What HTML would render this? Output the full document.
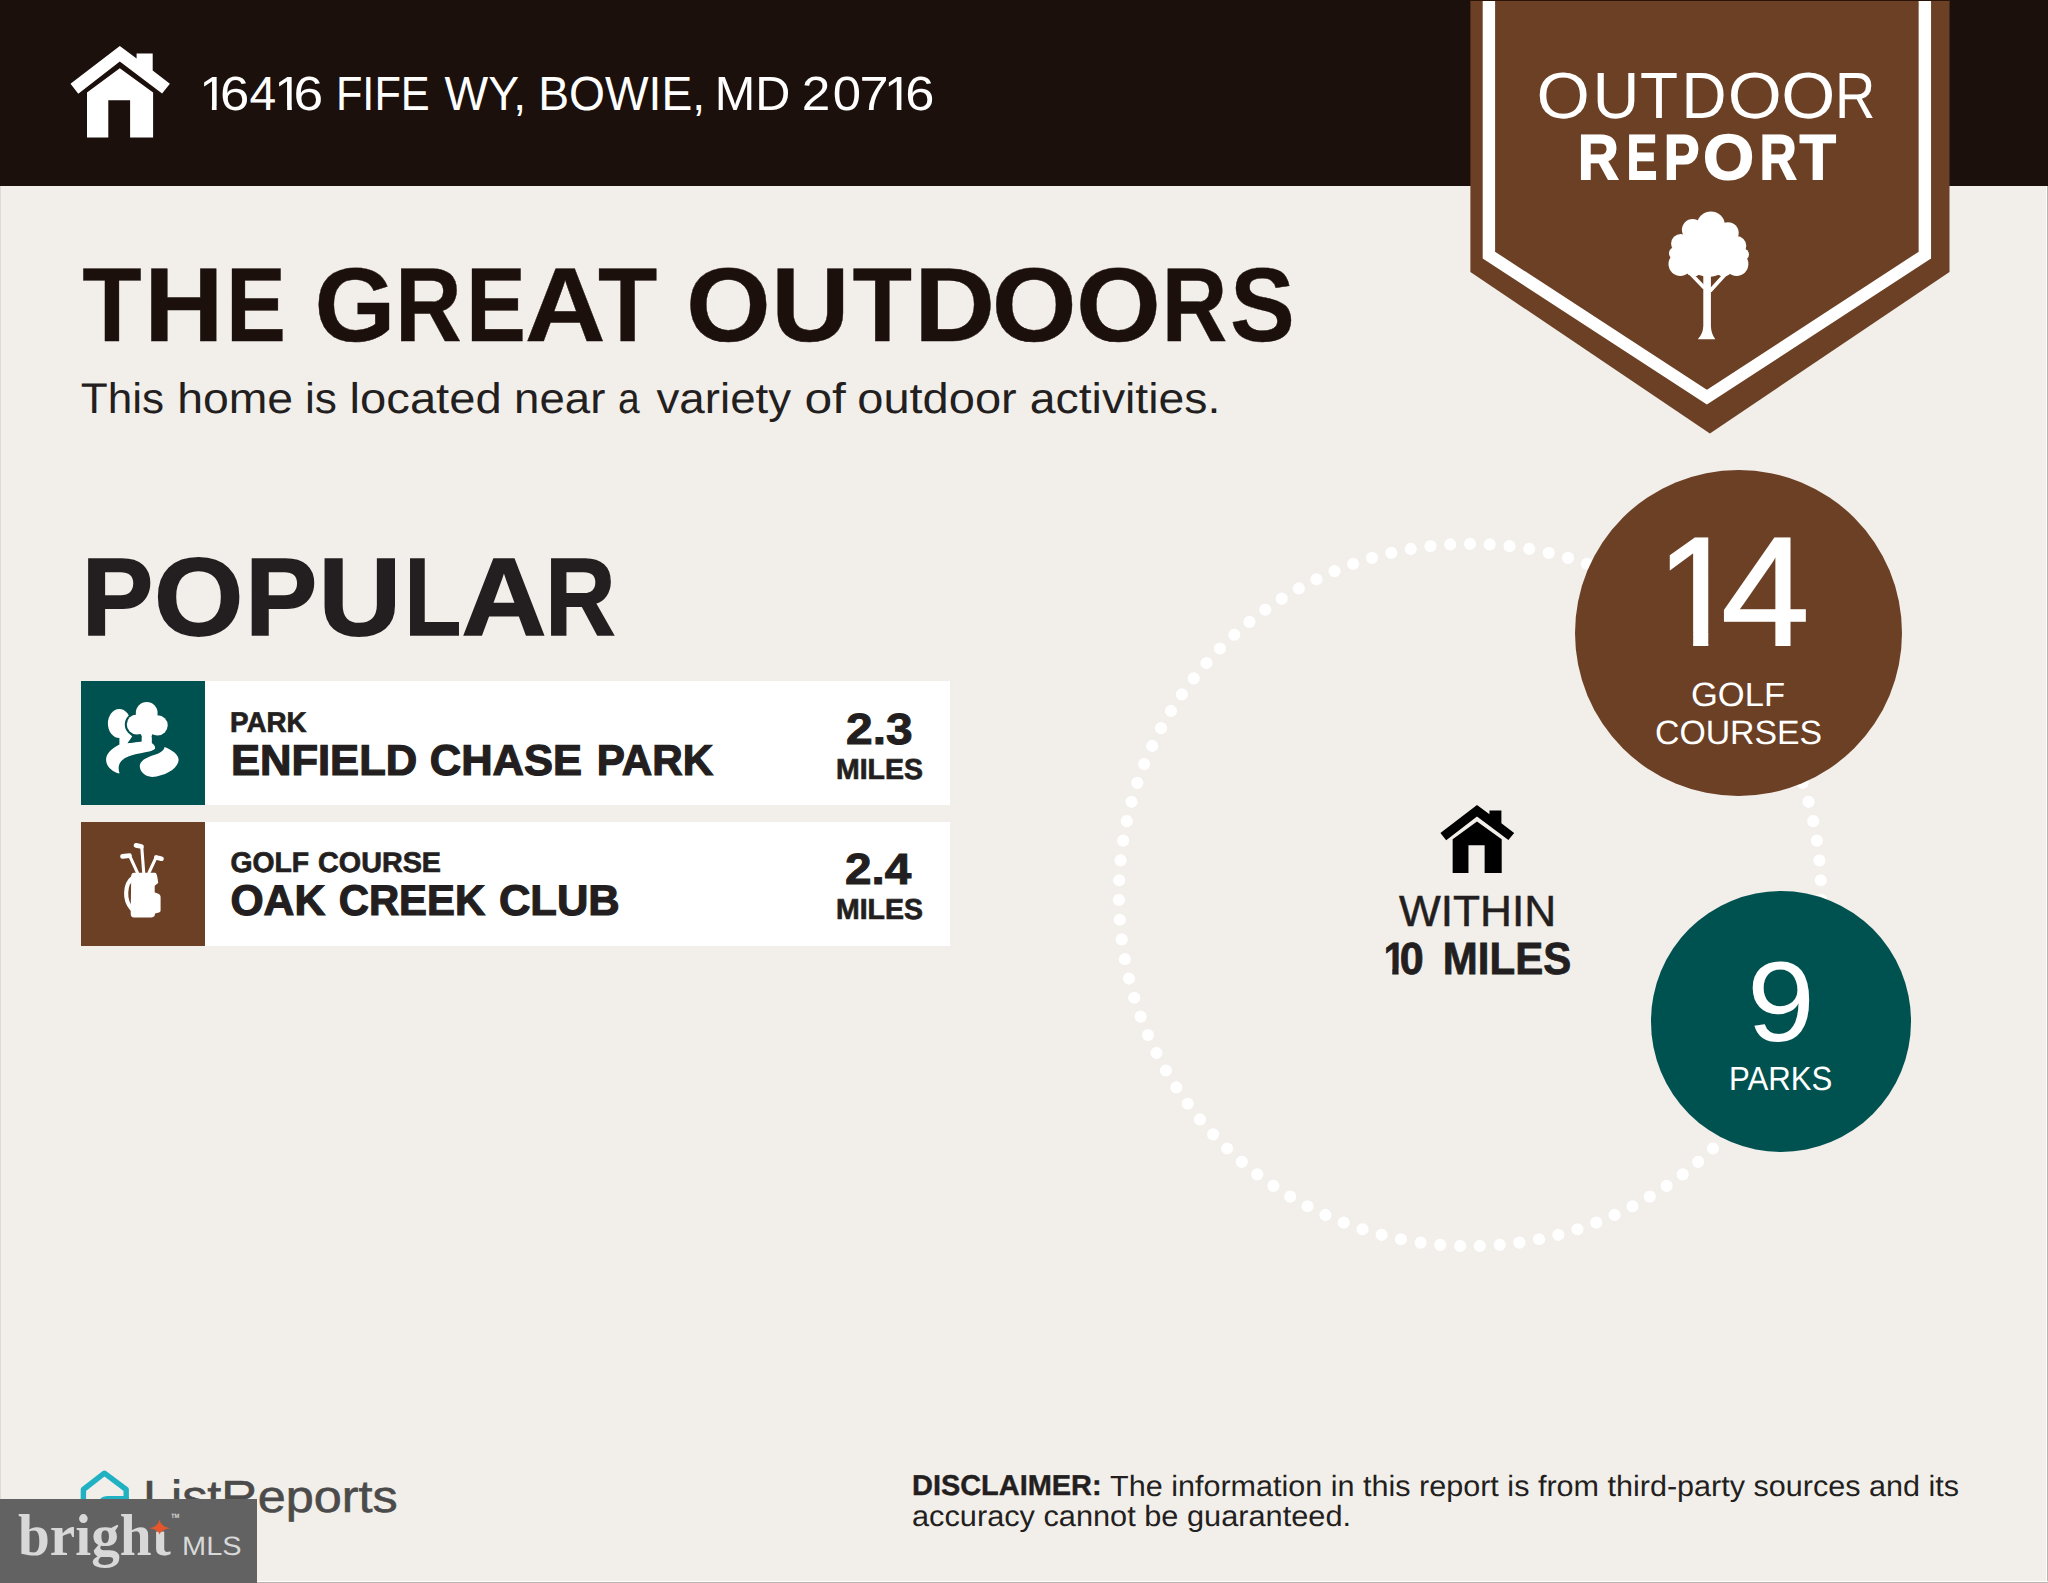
<!DOCTYPE html>
<html lang="en">
<head>
<meta charset="utf-8">
<title>Outdoor Report - 16416 Fife Wy, Bowie, MD 20716</title>
<style>
html,body{margin:0;padding:0;background:#f2eeea;}
body{width:2048px;height:1583px;overflow:hidden;font-family:"Liberation Sans",Arial,sans-serif;color:#231f20;text-rendering:geometricPrecision;}
#page{position:relative;width:2048px;height:1583px;overflow:hidden;background:#f2eeea;}
#hdr{position:absolute;left:0;top:0;width:2048px;height:185.7px;background:#1c100c;}
svg{position:absolute;left:0;top:0;overflow:visible;}
.card{position:absolute;left:80.5px;width:869.8px;background:#ffffff;}
.card .ico{position:absolute;left:0;top:0;width:124px;height:100%;}
#card1{top:681.4px;height:124px;}
#card2{top:821.8px;height:124.4px;}
#card1 .ico{background:#005250;}
#card2 .ico{background:#6c4025;}
.count{position:absolute;border-radius:50%;}
#golfc{left:1575px;top:469.7px;width:326.6px;height:326.6px;background:#6c4025;}
#parkc{left:1650.6px;top:891.2px;width:260.8px;height:260.8px;background:#005250;}
#wm{position:absolute;left:0;top:1499.2px;width:256.8px;height:83.8px;background:#626262;}
.g{position:absolute;left:0;margin:0;padding:0;white-space:nowrap;line-height:normal;font-weight:400;}
.w{display:inline-block;transform-origin:0 50%;}
#disclaimer{position:static;font-size:0;line-height:0;}
.t{position:absolute;white-space:nowrap;line-height:normal;transform-origin:0 0;margin:0;padding:0;display:block;}
#addr{top:67px;font-size:47.82px;color:#ffffff;}
#addr_0{transform:translateX(199.15px) scaleX(1.0669);clip-path:polygon(-20px -20px,47.82px -20px,47.82px 39.01px,16.36px 39.01px,16.36px 63px,11.97px 63px,11.97px 39.01px,-20px 39.01px);}
#addr_1{transform:translateX(193.03px) scaleX(1.1013);}
#addr_2{transform:translateX(196.61px) scaleX(1.0043);}
#addr_3{transform:translateX(194.37px) scaleX(1.0669);clip-path:polygon(-20px -20px,47.82px -20px,47.82px 39.01px,16.36px 39.01px,16.36px 63px,11.97px 63px,11.97px 39.01px,-20px 39.01px);}
#addr_4{transform:translateX(187.52px) scaleX(1.1149);}
#addr_5{transform:translateX(189.88px) scaleX(0.9065);}
#addr_6{transform:translateX(181.54px) scaleX(0.9680);}
#addr_7{transform:translateX(177.21px) scaleX(0.9667);}
#addr_8{transform:translateX(167.65px) scaleX(1.0168);}
#addr_9{transform:translateX(167.7px) scaleX(1.0741);}
#addr_10{transform:translateX(171.7px) scaleX(1.0630);}
#addr_11{transform:translateX(172.61px) scaleX(1.0948);}
#addr_12{transform:translateX(169.95px) scaleX(1.0669);clip-path:polygon(-20px -20px,47.82px -20px,47.82px 39.01px,16.36px 39.01px,16.36px 63px,11.97px 63px,11.97px 39.01px,-20px 39.01px);}
#addr_13{transform:translateX(164.34px) scaleX(1.0967);}
#title{top:246.1px;font-size:105.09px;font-weight:700;color:#1c100c;-webkit-text-stroke:0.4px #1c100c;}
#title_0{transform:translateX(82.31px) scaleX(0.9259);}
#title_1{transform:translateX(80.04px) scaleX(1.0489);}
#title_2{transform:translateX(86.01px) scaleX(0.8548);}
#title_3{transform:translateX(75.46px) scaleX(0.9899);}
#title_4{transform:translateX(74.12px) scaleX(0.8785);}
#title_5{transform:translateX(69.09px) scaleX(0.8548);}
#title_6{transform:translateX(57.81px) scaleX(1.0666);}
#title_7{transform:translateX(54.92px) scaleX(0.9243);}
#title_8{transform:translateX(49.96px) scaleX(1.0367);}
#title_9{transform:translateX(53.28px) scaleX(1.0322);}
#title_10{transform:translateX(58.51px) scaleX(0.9275);}
#title_11{transform:translateX(56px) scaleX(1.0691);}
#title_12{transform:translateX(57.75px) scaleX(1.0381);}
#title_13{transform:translateX(60.01px) scaleX(1.0381);}
#title_14{transform:translateX(63.78px) scaleX(0.8635);}
#title_15{transform:translateX(56.96px) scaleX(0.9244);}
#sub{top:374.9px;font-size:42.88px;}
#sub_0{transform:translateX(80.81px) scaleX(1.0281);}
#sub_1{transform:translateX(84.16px) scaleX(1.0812);}
#sub_2{transform:translateX(93.03px) scaleX(1.0321);}
#sub_3{transform:translateX(94.62px) scaleX(1.0994);}
#sub_4{transform:translateX(109.08px) scaleX(1.0637);}
#sub_5{transform:translateX(115.11px) scaleX(0.9080);}
#sub_6{transform:translateX(117.52px) scaleX(1.0661);}
#sub_7{transform:translateX(127.39px) scaleX(1.1610);}
#sub_8{transform:translateX(132.22px) scaleX(1.0971);}
#sub_9{transform:translateX(147.78px) scaleX(1.0809);}
#popular{top:534.4px;font-size:110.47px;font-weight:700;-webkit-text-stroke:1.6px #231f20;}
#popular_0{transform:translateX(81.64px) scaleX(0.9693);}
#popular_1{transform:translateX(80.1px) scaleX(1.0396);}
#popular_2{transform:translateX(85.36px) scaleX(0.9757);}
#popular_3{transform:translateX(85.41px) scaleX(1.0361);}
#popular_4{transform:translateX(91.5px) scaleX(0.8396);}
#popular_5{transform:translateX(80.39px) scaleX(1.0646);}
#popular_6{transform:translateX(85.34px) scaleX(0.8799);}
#c1lab{left:149.69px;top:25.45px;transform:scaleX(0.9746);font-size:28.49px;font-weight:700;-webkit-text-stroke:0.7px #231f20;}
#c1name{top:55.6px;font-size:43.02px;font-weight:700;-webkit-text-stroke:1.2px #231f20;}
#c1name_0{transform:translateX(149.89px) scaleX(1.0126);}
#c1name_1{transform:translateX(153.75px) scaleX(1.0106);}
#c1name_2{transform:translateX(157.78px) scaleX(0.9807);}
#c1dist{left:765.14px;top:23.4px;transform:scaleX(1.0967);font-size:43.68px;font-weight:700;-webkit-text-stroke:1px #231f20;}
#c1mi{left:755.05px;top:72.55px;transform:scaleX(0.9895);font-size:28.78px;font-weight:700;-webkit-text-stroke:0.7px #231f20;}
#c2lab{top:25.25px;font-size:28.34px;font-weight:700;-webkit-text-stroke:0.7px #231f20;}
#c2lab_0{transform:translateX(149.49px) scaleX(0.9986);}
#c2lab_1{transform:translateX(151.11px) scaleX(1.0136);}
#c2name{top:55.3px;font-size:42.88px;font-weight:700;-webkit-text-stroke:1.2px #231f20;}
#c2name_0{transform:translateX(149.45px) scaleX(0.9943);}
#c2name_1{transform:translateX(150.68px) scaleX(0.9760);}
#c2name_2{transform:translateX(148.9px) scaleX(1.0148);}
#c2dist{left:764.85px;top:23.3px;transform:scaleX(1.0920);font-size:43.68px;font-weight:700;-webkit-text-stroke:1px #231f20;}
#c2mi{left:755.05px;top:72.45px;transform:scaleX(0.9895);font-size:28.78px;font-weight:700;-webkit-text-stroke:0.7px #231f20;}
#b1{top:57.6px;font-size:65.26px;color:#ffffff;}
#b1_0{transform:translateX(1536.55px) scaleX(1.0506);}
#b1_1{transform:translateX(1541.66px) scaleX(0.9876);}
#b1_2{transform:translateX(1542.01px) scaleX(0.9539);}
#b1_3{transform:translateX(1543.44px) scaleX(0.9547);}
#b1_4{transform:translateX(1542.84px) scaleX(1.0640);}
#b1_5{transform:translateX(1545.27px) scaleX(1.0640);}
#b1_6{transform:translateX(1548.91px) scaleX(0.8568);}
#b2{top:121.7px;font-size:63.37px;font-weight:700;color:#ffffff;-webkit-text-stroke:1.8px #ffffff;}
#b2_0{transform:translateX(1577.93px) scaleX(0.8900);}
#b2_1{transform:translateX(1580.68px) scaleX(0.7201);}
#b2_2{transform:translateX(1576.02px) scaleX(0.8365);}
#b2_3{transform:translateX(1573.33px) scaleX(1.0288);}
#b2_4{transform:translateX(1579.69px) scaleX(0.8055);}
#b2_5{transform:translateX(1574.78px) scaleX(0.9326);}
#n14{top:33px;font-size:154.8px;color:#ffffff;-webkit-text-stroke:1.8px #ffffff;}
#n14_0{transform:translateX(81.23px) scaleX(0.9703);clip-path:polygon(-20px -20px,154.8px -20px,154.8px 129.09px,53.63px 129.09px,53.63px 162px,38.09px 162px,38.09px 129.09px,-20px 129.09px);}
#n14_1{transform:translateX(60.36px) scaleX(1.0256);}
#golf{left:115.66px;top:207.3px;transform:scaleX(1.0284);font-size:33.58px;color:#ffffff;}
#courses{left:79.78px;top:243.9px;transform:scaleX(1.0025);font-size:33.72px;color:#ffffff;}
#n9{left:96.28px;top:46px;transform:scaleX(1.0711);font-size:114px;color:#ffffff;}
#parks{left:78.44px;top:169.8px;transform:scaleX(0.9285);font-size:33.58px;color:#ffffff;}
#within{left:1399.16px;top:887.45px;transform:scaleX(1.0108);font-size:43.75px;-webkit-text-stroke:0.5px #231f20;}
#m10{top:933px;font-size:45.06px;font-weight:700;-webkit-text-stroke:0.8px #231f20;}
#m10_0{transform:translateX(1383.67px) scaleX(0.8657);clip-path:polygon(-20px -20px,45.06px -20px,45.06px 35.58px,17.17px 35.58px,17.17px 61px,9.98px 61px,9.98px 35.58px,-20px 35.58px);}
#m10_1{transform:translateX(1374.73px) scaleX(0.9566);}
#m10_2{transform:translateX(1379.85px) scaleX(0.9322);}
#disc{left:912.16px;top:1470.3px;transform:scaleX(1.0104);font-size:28.63px;font-weight:700;-webkit-text-stroke:0.4px #231f20;}
#disc1{left:1110.01px;top:1470.5px;transform:scaleX(1.0456);font-size:29.22px;}
#disc2{left:911.99px;top:1500.9px;transform:scaleX(1.0516);font-size:29.22px;}
#lr{left:143.17px;top:1470.7px;transform:scaleX(1.1178);font-size:45.06px;color:#4b4b4b;-webkit-text-stroke:0.6px #4b4b4b;}
#bright{left:18.27px;top:1.5px;transform:scaleX(0.9718);font-size:58.95px;font-weight:700;color:#d8d8d8;font-family:'Liberation Serif','Times New Roman',serif;}
#mls{left:181.72px;top:31.5px;transform:scaleX(1.0899);font-size:26.6px;color:#d8d8d8;}
#tm{left:171.34px;top:14px;transform:scaleX(0.9483);font-size:6.1px;font-weight:700;color:#d8d8d8;}
</style>
</head>
<body>
<div id="page">

  <header id="hdr">
    <svg width="2048" height="186" viewBox="0 0 2048 186">
      <g fill="#ffffff">
        <polygon points="70.5,83.8 119.8,46 136.6,58.6 136.6,53.4 152.7,53.4 152.7,70.6 169.9,83.8 162.1,93.4 119.8,61.6 78.3,93.7"/>
        <path d="M119.8,68.2 L153.1,92.4 L153.1,137.6 L130.1,137.6 L130.1,100.2 L108.3,100.2 L108.3,137.6 L87,137.6 L87,92.4 Z"/>
      </g>
    </svg>
    <div class="g" id="addr" aria-label="16416 FIFE WY, BOWIE, MD 20716"><span class="w" id="addr_0">1</span><span class="w" id="addr_1">6</span><span class="w" id="addr_2">4</span><span class="w" id="addr_3">1</span><span class="w" id="addr_4">6</span> <span class="w" id="addr_5">FIFE</span> <span class="w" id="addr_6">WY,</span> <span class="w" id="addr_7">BOWIE,</span> <span class="w" id="addr_8">MD</span> <span class="w" id="addr_9">2</span><span class="w" id="addr_10">0</span><span class="w" id="addr_11">7</span><span class="w" id="addr_12">1</span><span class="w" id="addr_13">6</span></div>
  </header>

  <section id="intro">
    <h1 class="g" id="title" aria-label="THE GREAT OUTDOORS"><span class="w" id="title_0">T</span><span class="w" id="title_1">H</span><span class="w" id="title_2">E</span> <span class="w" id="title_3">G</span><span class="w" id="title_4">R</span><span class="w" id="title_5">E</span><span class="w" id="title_6">A</span><span class="w" id="title_7">T</span> <span class="w" id="title_8">O</span><span class="w" id="title_9">U</span><span class="w" id="title_10">T</span><span class="w" id="title_11">D</span><span class="w" id="title_12">O</span><span class="w" id="title_13">O</span><span class="w" id="title_14">R</span><span class="w" id="title_15">S</span></h1>
    <p class="g" id="sub"><span class="w" id="sub_0">This</span> <span class="w" id="sub_1">home</span> <span class="w" id="sub_2">is</span> <span class="w" id="sub_3">located</span> <span class="w" id="sub_4">near</span> <span class="w" id="sub_5">a</span> <span class="w" id="sub_6">variety</span> <span class="w" id="sub_7">of</span> <span class="w" id="sub_8">outdoor</span> <span class="w" id="sub_9">activities.</span></p>
  </section>

  <section id="radius">
    <svg width="2048" height="1583" viewBox="0 0 2048 1583">
      <circle cx="1470" cy="895" r="351.1" fill="none" stroke="#ffffff" stroke-width="12.2" stroke-linecap="round" pathLength="111" stroke-dasharray="0 1" transform="rotate(-90 1470 895)"/>
      <g fill="#000000" transform="translate(1388.1 770.8) scale(0.742)">
        <polygon points="70.5,83.8 119.8,46 136.6,58.6 136.6,53.4 152.7,53.4 152.7,70.6 169.9,83.8 162.1,93.4 119.8,61.6 78.3,93.7"/>
        <path d="M119.8,68.2 L153.1,92.4 L153.1,137.6 L130.1,137.6 L130.1,100.2 L108.3,100.2 L108.3,137.6 L87,137.6 L87,92.4 Z"/>
      </g>
    </svg>
    <span class="t" id="within">WITHIN</span>
    <div class="g" id="m10" aria-label="10 MILES"><span class="w" id="m10_0">1</span><span class="w" id="m10_1">0</span> <span class="w" id="m10_2">MILES</span></div>
    <div class="count" id="golfc">
      <div class="g" id="n14" aria-label="14"><span class="w" id="n14_0">1</span><span class="w" id="n14_1">4</span></div>
      <span class="t" id="golf">GOLF</span>
      <span class="t" id="courses">COURSES</span>
    </div>
    <div class="count" id="parkc">
      <span class="t" id="n9">9</span>
      <span class="t" id="parks">PARKS</span>
    </div>
  </section>

  <div id="badge">
    <svg width="2048" height="440" viewBox="0 0 2048 440">
      <polygon points="1470.4,0 1949.5,0 1949.5,272 1709.9,433.4 1470.4,272" fill="#6c4025"/>
      <polyline points="1488.9,-10 1488.9,255.1 1706.9,397.2 1924.85,255.1 1924.85,-10" fill="none" stroke="#ffffff" stroke-width="12.4" stroke-linejoin="miter"/>
      <rect x="1470.4" y="0" width="479.1" height="1" fill="#2a1206"/>
      <g fill="#ffffff">
      <circle cx="1710.9" cy="225.4" r="14"/>
      <circle cx="1692.6" cy="229.7" r="10.7"/>
      <circle cx="1728" cy="232.9" r="10.7"/>
      <circle cx="1680.8" cy="243.7" r="9.7"/>
      <circle cx="1736.6" cy="245.8" r="9.7"/>
      <circle cx="1680.3" cy="264.1" r="11.8"/>
      <circle cx="1736.6" cy="264.1" r="11.8"/>
      <circle cx="1675.4" cy="253.3" r="6.4"/>
      <circle cx="1743.1" cy="254.4" r="5.9"/>
      <circle cx="1708.7" cy="250.1" r="26.8"/>
      <circle cx="1693.7" cy="268.4" r="8.1"/>
      <circle cx="1723.7" cy="268.4" r="8.1"/>
      <circle cx="1708.7" cy="269.5" r="6.4"/>
      <path d="M1703.3,268 L1703.3,326 Q1703,334 1697.8,339.3 L1715.3,339.3 Q1711.2,334 1710.9,326 L1710.9,268 Z"/>
      <path d="M1704.5,288 L1691.5,274.5 M1710,291 L1725,274.5" fill="none" stroke="#ffffff" stroke-width="3.8"/>
      </g>
    </svg>
    <div class="g" id="b1" aria-label="OUTDOOR"><span class="w" id="b1_0">O</span><span class="w" id="b1_1">U</span><span class="w" id="b1_2">T</span><span class="w" id="b1_3">D</span><span class="w" id="b1_4">O</span><span class="w" id="b1_5">O</span><span class="w" id="b1_6">R</span></div>
    <div class="g" id="b2" aria-label="REPORT"><span class="w" id="b2_0">R</span><span class="w" id="b2_1">E</span><span class="w" id="b2_2">P</span><span class="w" id="b2_3">O</span><span class="w" id="b2_4">R</span><span class="w" id="b2_5">T</span></div>
  </div>

  <section id="popular-places">
    <h2 class="g" id="popular" aria-label="POPULAR"><span class="w" id="popular_0">P</span><span class="w" id="popular_1">O</span><span class="w" id="popular_2">P</span><span class="w" id="popular_3">U</span><span class="w" id="popular_4">L</span><span class="w" id="popular_5">A</span><span class="w" id="popular_6">R</span></h2>
    <div class="card" id="card1">
      <div class="ico"><svg width="124" height="124" viewBox="0 0 124 124">
    <g fill="#ffffff">
    <ellipse cx="38.3" cy="42.6" rx="11.4" ry="14.5"/>
    <path d="M38.4,54 L38.4,63.5 C31.3,67.3 25.1,72 25.1,78.7 C25.1,86.2 32.2,91 38.1,92.6 L38.5,92.1 C36,84.3 38.9,77.7 50.2,74.4 C61.6,71.1 71.1,71.1 74.1,67.8 C74.4,65.4 73,63.5 70.6,62.1 L70.6,53.1 L60.6,53.1 L60.6,60.2 L46.7,62.1 L51.6,56.1 L46.4,49.3 Z"/>
    <path d="M83.6,65.9 C91.9,69.2 97.6,73.9 97.6,78.7 C97.6,87.2 84.3,95.2 71.1,95.9 C64.4,95.7 58.8,91 58.8,85.3 C58.8,79.6 65.4,76.3 73,73.9 C79.6,72 82.9,69.2 83.6,65.9 Z"/>
    <circle cx="65.7" cy="32" r="12.9" fill="#005250"/>
    <circle cx="55.8" cy="43.4" r="12" fill="#005250"/>
    <circle cx="76.6" cy="44.3" r="12.1" fill="#005250"/>
    <circle cx="65.7" cy="43.9" r="13.2" fill="#005250"/>
    <path d="M60.6,49.3 L70.6,49.3 L70.6,63.5 L60.6,60.6 Z"/>
    <path d="M51.2,55.2 L60.5,54.8 L60.5,60.4 L46.5,62.3 L49.1,58.8 Z" fill="#005250"/>
    <circle cx="65.7" cy="32" r="10.9"/>
    <circle cx="55.8" cy="43.4" r="10"/>
    <circle cx="76.6" cy="44.3" r="10.1"/>
    <circle cx="65.7" cy="43.9" r="11.2"/>
    <path d="M60.6,49.3 L70.6,49.3 L70.6,55 L60.6,55 Z"/>
    </g>
      </svg></div>
      <span class="t" id="c1lab">PARK</span>
      <div class="g" id="c1name"><span class="w" id="c1name_0">ENFIELD</span> <span class="w" id="c1name_1">CHASE</span> <span class="w" id="c1name_2">PARK</span></div>
      <span class="t" id="c1dist">2.3</span>
      <span class="t" id="c1mi">MILES</span>
    </div>
    <div class="card" id="card2">
      <div class="ico"><svg width="124" height="124" viewBox="0 0 124 124">
    <g fill="#ffffff" stroke="none">
    <path d="M53.1,50.7 L73.9,50.7 C75.3,50.7 76,52.6 76.6,56.4 L77.2,61.1 L73.7,63.8 L73.7,70.6 C76.8,71.4 79.6,72.5 79.6,74.9 L79.6,88.6 C79.6,90.5 76.8,91.3 74.1,91.4 L73.7,93.3 C73.5,94.8 72,95.4 70.1,95.4 L53.1,95.4 C50.7,95.4 49.7,93.8 49.7,91.4 L50.2,54.5 C50.2,52.1 51.2,50.7 53.1,50.7 Z"/>
    <path d="M52.1,55.4 C43.4,62.1 42.8,78.2 50.7,86.7" fill="none" stroke="#ffffff" stroke-width="4.2" stroke-linecap="round"/>
    <path d="M56.4,50.7 L48.8,34.1 M62.7,50.7 L60.8,25.3 M68,50.7 L74.6,36.3" fill="none" stroke="#ffffff" stroke-width="3.1" stroke-linecap="round"/>
    <path d="M41.5,34.4 L48.5,33.7 M55,23.4 L60.5,24.5 M75.3,35.5 L80.5,36.7" fill="none" stroke="#ffffff" stroke-width="4.7" stroke-linecap="round"/>
    </g>
      </svg></div>
      <div class="g" id="c2lab"><span class="w" id="c2lab_0">GOLF</span> <span class="w" id="c2lab_1">COURSE</span></div>
      <div class="g" id="c2name"><span class="w" id="c2name_0">OAK</span> <span class="w" id="c2name_1">CREEK</span> <span class="w" id="c2name_2">CLUB</span></div>
      <span class="t" id="c2dist">2.4</span>
      <span class="t" id="c2mi">MILES</span>
    </div>
  </section>

  <footer id="foot">
    <svg width="2048" height="1583" viewBox="0 0 2048 1583">
      <g fill="none" stroke="#20b2c2" stroke-width="5.4" stroke-linejoin="round" stroke-linecap="round"><path d="M83.4,1530 L83.4,1489.5 L104.4,1473.2 L126.2,1489.5 L126.2,1530"/><path d="M126,1498.6 L108,1498.6 Q100.5,1498.6 100.5,1507"/></g>
      <rect x="2046" y="186" width="1" height="1397" fill="#ffffff" opacity="0.9"/>
      <rect x="2047" y="186" width="1" height="1397" fill="#b9b4b1"/>
      <rect x="0" y="1581" width="2048" height="1" fill="#ffffff" opacity="0.9"/>
      <rect x="0" y="1582" width="2048" height="1" fill="#b9b4b1"/>
      <rect x="0" y="186" width="1" height="1397" fill="#dedad7"/>
    </svg>
    <span class="t" id="lr">ListReports</span>
    <p class="g" id="disclaimer"><span class="t" id="disc">DISCLAIMER:</span> <span class="t" id="disc1">The information in this report is from third-party sources and its</span> <span class="t" id="disc2">accuracy cannot be guaranteed.</span></p>
  </footer>

  <div id="wm">
    <span class="t" id="bright">bright</span>
    <span class="t" id="tm">TM</span>
    <span class="t" id="mls">MLS</span>
    <svg width="257" height="84" viewBox="0 1499.2 257 84">
      <rect x="151.5" y="1512" width="20" height="19.8" fill="#626262"/><path d="M159.6,1519.6 Q160.9,1527 170.2,1528.4 Q160.9,1529.6 159.6,1534.6 Q158.3,1529.6 149.2,1528.4 Q158.3,1527 159.6,1519.6 Z" fill="#e5562c"/>
    </svg>
  </div>

</div>
</body>
</html>
